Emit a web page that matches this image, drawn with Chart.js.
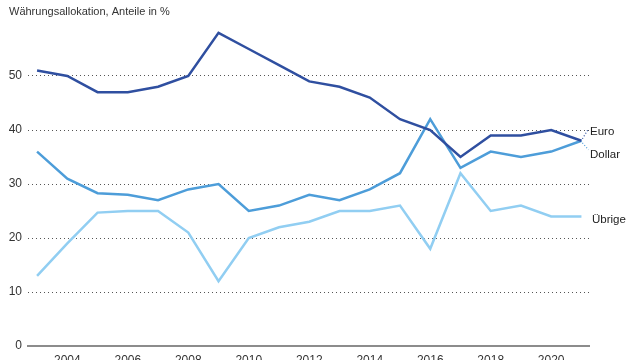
<!DOCTYPE html>
<html>
<head>
<meta charset="utf-8">
<script src="https://cdn.jsdelivr.net/npm/chart.js@4"></script>
<style>
  html, body { margin: 0; padding: 0; background: #ffffff; overflow: hidden; }
  #wrap { position: relative; width: 640px; height: 360px; }
</style>
</head>
<body>
<div id="wrap"><canvas id="c" width="640" height="360"></canvas></div>
<script>
const years = [2003, 2004, 2005, 2006, 2007, 2008, 2009, 2010, 2011, 2012, 2013, 2014, 2015, 2016, 2017, 2018, 2019, 2020, 2021];
const euro   = [51, 50, 47, 47, 48, 50, 58, 55, 52, 49, 48, 46, 42, 40, 35, 39, 39, 40, 38];
const dollar = [36, 31, 28.3, 28, 27, 29, 30, 25, 26, 28, 27, 29, 32, 42, 33, 36, 35, 36, 38];
const uebrige = [13, 19, 24.7, 25, 25, 21, 12, 20, 22, 23, 25, 25, 26, 18, 32, 25, 26, 24, 24];
const seriesNames = ['Euro', 'Dollar', 'Übrige'];
const xTickYears = [2004, 2006, 2008, 2010, 2012, 2014, 2016, 2018, 2020];
const yTickValues = [0, 10, 20, 30, 40, 50];
const titleText = 'Währungsallokation, Anteile in %';

const FONT = '"Liberation Sans Narrow", "Liberation Sans", Arial, sans-serif';
const colors = ['#2f4fa0', '#4d9dd9', '#91cef2'];

function toPoints(vals) { return vals.map((v, i) => ({ x: years[i], y: v })); }

const endLabels = {
  id: 'endLabels',
  afterDatasetsDraw(chart) {
    const ctx = chart.ctx;
    const area = chart.chartArea;
    ctx.save();
    ctx.font = '11.5px ' + FONT;
    ctx.fillStyle = '#222';
    ctx.textBaseline = 'middle';
    ctx.textAlign = 'left';
    const pts = chart.data.datasets.map((d, i) => {
      const m = chart.getDatasetMeta(i).data;
      return m[m.length - 1];
    });
    ctx.setLineDash([1, 2]);
    ctx.lineWidth = 1.2;
    ctx.strokeStyle = colors[0];
    ctx.beginPath();
    ctx.moveTo(pts[0].x + 1, pts[0].y - 2);
    ctx.lineTo(pts[0].x + 7, pts[0].y - 12);
    ctx.stroke();
    ctx.strokeStyle = colors[1];
    ctx.beginPath();
    ctx.moveTo(pts[1].x + 1, pts[1].y + 2);
    ctx.lineTo(pts[1].x + 7, pts[1].y + 9);
    ctx.stroke();
    ctx.setLineDash([]);
    ctx.fillText(seriesNames[0], area.right + 1, pts[0].y - 9);
    ctx.fillText(seriesNames[1], area.right + 1, pts[1].y + 14);
    ctx.fillText(seriesNames[2], area.right + 3, pts[2].y + 3);
    ctx.restore();
  }
};

new Chart(document.getElementById('c'), {
  type: 'line',
  data: {
    datasets: [
      { label: seriesNames[0], data: toPoints(euro), borderColor: colors[0] },
      { label: seriesNames[1], data: toPoints(dollar), borderColor: colors[1] },
      { label: seriesNames[2], data: toPoints(uebrige), borderColor: colors[2] }
    ].map(d => Object.assign(d, { borderWidth: 2.5, pointRadius: 0, tension: 0, fill: false, borderJoinStyle: 'miter' }))
  },
  options: {
    responsive: false,
    animation: false,
    events: [],
    layout: { padding: { left: 9, right: 51, top: 0, bottom: 0 } },
    plugins: {
      legend: { display: false },
      tooltip: { enabled: false },
      title: {
        display: true,
        text: titleText,
        align: 'start',
        color: '#333',
        font: { family: FONT, size: 11, weight: 'normal', lineHeight: 1.3 },
        padding: { top: 5, bottom: 2.7 }
      }
    },
    scales: {
      x: {
        type: 'linear',
        min: 2002.7,
        max: 2021.25,
        afterBuildTicks(scale) { scale.ticks = xTickYears.map(v => ({ value: v })); },
        afterFit(scale) { scale.height = 14; },
        grid: { display: false, drawTicks: false },
        border: { display: true, color: '#8c8c8c', width: 2 },
        ticks: {
          padding: 7,
          color: '#333',
          maxRotation: 0,
          autoSkip: false,
          font: { family: FONT, size: 12 },
          callback: v => String(v)
        }
      },
      y: {
        min: 0,
        max: 60,
        afterBuildTicks(scale) { scale.ticks = yTickValues.concat([60]).map(v => ({ value: v })); },
        afterFit(scale) { scale.width = 19; },
        grid: {
          drawTicks: false,
          lineWidth: 1,
          color: ctx => (ctx.tick && (ctx.tick.value === 0 || ctx.tick.value === 60)) ? 'rgba(0,0,0,0)' : '#555'
        },
        border: { display: false, dash: [1, 3] },
        ticks: {
          padding: 6,
          color: '#333',
          font: { family: FONT, size: 12 },
          callback: v => (v === 60 ? '' : String(v))
        }
      }
    }
  },
  plugins: [endLabels]
});
</script>
</body>
</html>
